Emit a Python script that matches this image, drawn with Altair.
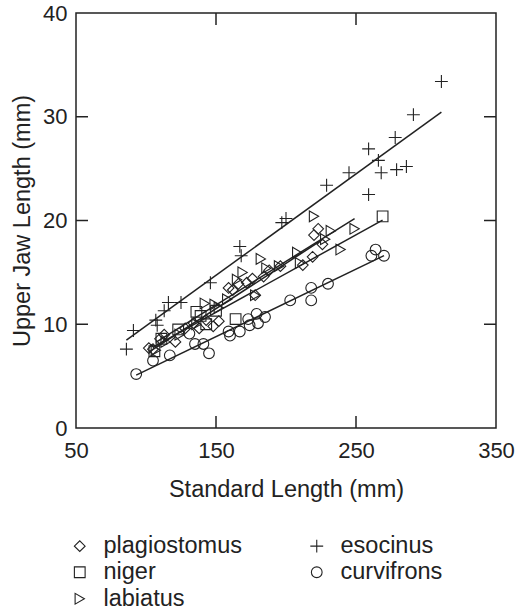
import altair as alt
import pandas as pd

# ---- data ----
species_order = ["plagiostomus", "niger", "labiatus", "esocinus", "curvifrons"]

plagiostomus_x = [102, 105, 110, 113, 121, 128, 134, 138, 143, 148, 152, 159, 162, 166, 172,
                  176, 178, 184, 188, 196, 212, 219, 220, 223, 226]
plagiostomus_y = [7.7, 7.6, 8.6, 9.0, 8.3, 9.6, 10.1, 9.6, 10.4, 9.8, 10.3, 13.5, 13.3, 13.9, 14.0,
                  14.4, 12.8, 14.6, 15.2, 15.6, 15.7, 16.5, 18.6, 19.2, 17.7]

niger_x = [106, 111, 123, 136, 139, 143, 150, 164, 269]
niger_y = [7.4, 8.6, 9.5, 11.2, 10.8, 10.0, 11.3, 10.5, 20.4]

labiatus_x = [107, 114, 124, 136, 142, 149, 152, 158, 165, 169, 178, 182, 186, 195, 208,
              210, 220, 228, 232, 239, 249]
labiatus_y = [7.5, 8.3, 9.0, 10.0, 12.0, 11.9, 11.6, 12.4, 14.3, 15.0, 12.8, 16.3, 15.4, 15.6, 16.9,
              15.9, 20.4, 18.2, 19.0, 17.2, 19.2]

esocinus_x = [86, 91, 107, 108, 113, 116, 125, 146, 167, 168, 197, 200, 229, 245, 259,
              259, 266, 268, 278, 279, 286, 291, 311]
esocinus_y = [7.6, 9.4, 10.4, 9.9, 11.3, 12.1, 12.1, 14.0, 17.5, 16.6, 19.8, 20.2, 23.4, 24.6, 26.9,
              22.5, 25.8, 24.6, 28.0, 24.9, 25.2, 30.2, 33.4]

curvifrons_x = [93, 105, 117, 131, 135, 141, 145, 159, 160, 167, 173, 174, 179, 180, 185,
                203, 218, 218, 230, 261, 264, 270]
curvifrons_y = [5.2, 6.5, 7.0, 9.1, 8.1, 8.1, 7.2, 9.3, 8.9, 9.3, 10.5, 9.9, 11.0, 10.1, 10.7,
                12.3, 13.5, 12.3, 13.9, 16.6, 17.2, 16.6]

x_tick_values = [150, 250]
y_tick_values = [10, 20, 30]
x_label_values = [50, 150, 250, 350]
y_label_values = [0, 10, 20, 30, 40]

series = {
    "plagiostomus": (plagiostomus_x, plagiostomus_y),
    "niger": (niger_x, niger_y),
    "labiatus": (labiatus_x, labiatus_y),
    "esocinus": (esocinus_x, esocinus_y),
    "curvifrons": (curvifrons_x, curvifrons_y),
}
df = pd.concat(
    [pd.DataFrame({"sl": xs, "ujl": ys, "species": name}) for name, (xs, ys) in series.items()],
    ignore_index=True,
)

W, H = 420, 415
INK = "#222222"
FONT = "Liberation Sans"

shape_scale = alt.Scale(
    domain=species_order,
    range=["diamond", "square", "triangle-right", "M-1.2,0H1.2M0,-1.2V1.2", "circle"],
)

x_enc = alt.X(
    "sl:Q",
    scale=alt.Scale(domain=[50, 350], nice=False, zero=False),
    axis=alt.Axis(values=x_label_values, ticks=False, tickSize=0, domain=False, grid=False,
                  title="Standard Length (mm)", labelPadding=12, titlePadding=16,
                  labelFlush=False),
)
y_enc = alt.Y(
    "ujl:Q",
    scale=alt.Scale(domain=[0, 40], nice=False),
    axis=alt.Axis(values=y_label_values, ticks=False, tickSize=0, domain=False, grid=False,
                  title="Upper Jaw Length (mm)", labelPadding=9, titlePadding=8,
                  labelFlush=False),
)

points = alt.Chart(df).mark_point(filled=False, size=115, strokeWidth=1.1, color=INK, opacity=1).encode(
    x=x_enc,
    y=y_enc,
    shape=alt.Shape(
        "species:N",
        scale=shape_scale,
        sort=species_order,
        legend=alt.Legend(
            title=None, orient="none", legendX=-8, legendY=521, columns=2,
            columnPadding=63, rowPadding=1.5, labelOffset=12,
            symbolSize=115, symbolStrokeWidth=1.1, symbolStrokeColor=INK,
            symbolFillColor="transparent", labelFontSize=23.5, labelFont=FONT,
            labelColor=INK,
        ),
    ),
)

lines = alt.Chart(df).transform_regression(
    "sl", "ujl", groupby=["species"]
).mark_line(color=INK, strokeWidth=1.5).encode(
    x="sl:Q", y="ujl:Q", detail="species:N"
)

xt = pd.DataFrame({"sl": x_tick_values})
yt = pd.DataFrame({"ujl": y_tick_values})
tick_bottom = alt.Chart(xt).mark_rule(color=INK, strokeWidth=1.5).encode(
    x="sl:Q", y=alt.value(H - 12), y2=alt.value(H))
tick_top = alt.Chart(xt).mark_rule(color=INK, strokeWidth=1.5).encode(
    x="sl:Q", y=alt.value(0), y2=alt.value(12))
tick_left = alt.Chart(yt).mark_rule(color=INK, strokeWidth=1.5).encode(
    y="ujl:Q", x=alt.value(0), x2=alt.value(12))
tick_right = alt.Chart(yt).mark_rule(color=INK, strokeWidth=1.5).encode(
    y="ujl:Q", x=alt.value(W - 12), x2=alt.value(W))

chart = alt.layer(points, lines, tick_bottom, tick_top, tick_left, tick_right).properties(
    width=W, height=H,
    padding={"left": 76, "top": 13, "right": 19, "bottom": 183},
    autosize=alt.AutoSizeParams(type="none"),
    background="white",
).configure_view(
    stroke=INK, strokeWidth=1.5
).configure_axis(
    labelFontSize=22, titleFontSize=23.5, labelFont=FONT, titleFont=FONT,
    labelColor=INK, titleColor=INK, titleFontWeight="normal",
)

chart.save("out.html", embed_options={"renderer": "svg", "actions": False})
